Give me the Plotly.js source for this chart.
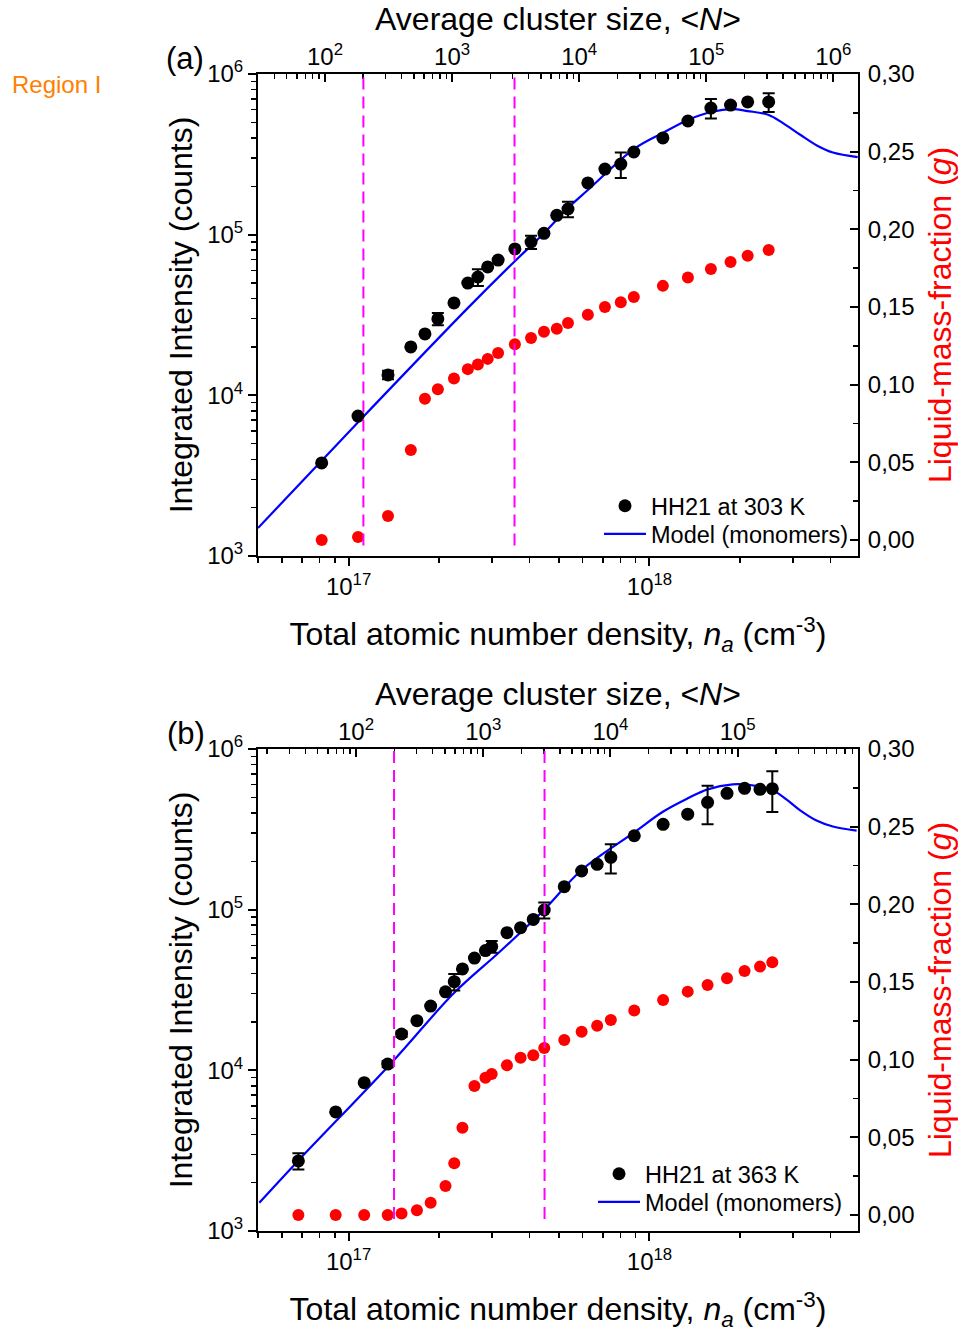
<!DOCTYPE html>
<html>
<head>
<meta charset="utf-8">
<script src="https://cdn.plot.ly/plotly-3.0.1.min.js"></script>
<style>
  html, body { margin: 0; padding: 0; background: #fff; }
  #chart { width: 958px; height: 1333px; }
</style>
</head>
<body>
<div id="chart"></div>
<script>
// ---------- Panel (a): HH21 at 303 K ----------
const nTop = [8.14e16, 1.075e17, 1.352e17, 1.61e17, 1.794e17, 1.98e17, 2.24e17, 2.49e17, 2.69e17, 2.90e17, 3.14e17, 3.57e17, 4.04e17, 4.46e17, 4.92e17, 5.36e17, 6.24e17, 7.11e17, 8.03e17, 8.87e17, 1.108e18, 1.342e18, 1.60e18, 1.86e18, 2.12e18, 2.49e18];
const intensityTop = [3795, 7430, 13400, 20000, 24100, 29900, 37600, 50000, 54500, 63000, 69500, 81500, 90000, 102000, 132000, 144500, 210000, 256000, 275000, 327000, 400000, 510000, 614000, 641000, 670000, 670000];
const intensityErrTop = [0, 0, 800, 0, 0, 2600, 0, 0, 6500, 0, 0, 0, 8500, 0, 0, 16000, 0, 0, 50000, 0, 0, 0, 85000, 0, 0, 90000];
const gTop = [0.000, 0.002, 0.0155, 0.058, 0.091, 0.097, 0.104, 0.110, 0.113, 0.1166, 0.1204, 0.126, 0.130, 0.134, 0.136, 0.1397, 0.145, 0.150, 0.153, 0.1565, 0.1636, 0.169, 0.1745, 0.179, 0.183, 0.1867];
const modelNTop = [5.0e16, 1.117e17, 2.47e17, 3.52e17, 4.46e17, 5.36e17, 6.24e17, 8.87e17, 1.108e18, 1.342e18, 1.60e18, 1.89e18, 2.12e18, 2.49e18, 2.77e18, 3.16e18, 3.60e18, 4.07e18, 4.92e18];
const modelITop = [1494, 7330, 34400, 66700, 102000, 146600, 189700, 341000, 430000, 518000, 580000, 605000, 588000, 556000, 496000, 420000, 359000, 324500, 304000];
const regionTop = [1.12e17, 3.56e17];

// ---------- Panel (b): HH21 at 363 K ----------
const nBot = [6.81e16, 9.06e16, 1.127e17, 1.349e17, 1.50e17, 1.687e17, 1.874e17, 2.10e17, 2.245e17, 2.39e17, 2.62e17, 2.85e17, 2.99e17, 3.36e17, 3.73e17, 4.11e17, 4.47e17, 5.21e17, 5.95e17, 6.70e17, 7.44e17, 8.90e17, 1.11e18, 1.34e18, 1.56e18, 1.81e18, 2.07e18, 2.33e18, 2.56e18];
const intensityBot = [2730, 5510, 8380, 10940, 16830, 20370, 25120, 30820, 35640, 42760, 50000, 55600, 58900, 71900, 77300, 87000, 99500, 139000, 174000, 191500, 211800, 288500, 339700, 392700, 465600, 529700, 569000, 561000, 566000];
const intensityErrBot = [320, 0, 0, 500, 700, 0, 0, 0, 4200, 0, 0, 0, 5000, 0, 0, 0, 11500, 0, 0, 0, 44000, 0, 0, 0, 125000, 0, 0, 0, 160000];
const gBot = [0.0, 0.0, 0.0, 0.0, 0.001, 0.003, 0.0079, 0.0187, 0.0333, 0.0562, 0.0831, 0.0884, 0.0908, 0.0964, 0.1013, 0.1028, 0.1075, 0.1127, 0.118, 0.1219, 0.1256, 0.1316, 0.1384, 0.1438, 0.1481, 0.1524, 0.1571, 0.1599, 0.1627];
const modelNBot = [5.05e16, 6.79e16, 1.40e17, 2.24e17, 3.18e17, 4.46e17, 5.95e17, 8.87e17, 1.108e18, 1.34e18, 1.56e18, 1.89e18, 2.16e18, 2.56e18, 2.85e18, 3.16e18, 3.59e18, 4.07e18, 4.88e18];
const modelIBot = [1500, 2730, 11320, 30270, 54700, 99500, 176500, 301500, 407000, 493000, 561000, 603000, 597000, 556000, 486000, 417000, 359000, 329500, 310500];
const regionBot = [1.416e17, 4.48e17];

// ---------- Tick labels ----------
const densityTickVals = [1e17, 1e18];
const densityTickText = ['10<sup>17</sup>', '10<sup>18</sup>'];
const intensityTickVals = [1e3, 1e4, 1e5, 1e6];
const intensityTickText = ['10<sup>3</sup>', '10<sup>4</sup>', '10<sup>5</sup>', '10<sup>6</sup>'];
const clusterTickVals = [1e2, 1e3, 1e4, 1e5, 1e6];
const clusterTickText = ['10<sup>2</sup>', '10<sup>3</sup>', '10<sup>4</sup>', '10<sup>5</sup>', '10<sup>6</sup>'];
const gTickVals = [0, 0.05, 0.10, 0.15, 0.20, 0.25, 0.30];
const gTickText = ['0,00', '0,05', '0,10', '0,15', '0,20', '0,25', '0,30'];
const labelsPanel = ['(a)', '(b)'];
const legendNames = ['HH21 at 303 K', 'HH21 at 363 K', 'Model (monomers)'];

function minorLog(lo, hi) {
  const out = [];
  for (let e = lo; e <= hi; e++) for (let k = 2; k <= 9; k++) out.push(k * Math.pow(10, e));
  return out;
}

const FONT = 'Liberation Sans, Arial, sans-serif';
const BLUE = '#0000FF', RED = '#FF0000', MAG = '#FF00FF';

const traces = [
  // top panel
  { x: modelNTop, y: modelITop, xaxis: 'x', yaxis: 'y', mode: 'lines', line: { color: BLUE, width: 2.2, shape: 'spline', smoothing: 1 }, name: legendNames[2], legend: 'legend3' },
  { x: nTop, y: intensityTop, xaxis: 'x', yaxis: 'y', mode: 'markers', marker: { color: '#000', size: 13 }, name: legendNames[0], legend: 'legend',
    error_y: { type: 'data', array: intensityErrTop, visible: true, color: '#000', thickness: 2, width: 6 } },
  { x: nTop, y: gTop, xaxis: 'x', yaxis: 'y2', mode: 'markers', marker: { color: RED, size: 12 }, showlegend: false },
  { x: clusterTickVals, y: clusterTickVals.map(() => null), xaxis: 'x2', yaxis: 'y', mode: 'markers', showlegend: false, hoverinfo: 'skip' },
  // bottom panel
  { x: modelNBot, y: modelIBot, xaxis: 'x3', yaxis: 'y3', mode: 'lines', line: { color: BLUE, width: 2.2, shape: 'spline', smoothing: 1 }, name: legendNames[2], legend: 'legend4' },
  { x: nBot, y: intensityBot, xaxis: 'x3', yaxis: 'y3', mode: 'markers', marker: { color: '#000', size: 13 }, name: legendNames[1], legend: 'legend2',
    error_y: { type: 'data', array: intensityErrBot, visible: true, color: '#000', thickness: 2, width: 6 } },
  { x: nBot, y: gBot, xaxis: 'x3', yaxis: 'y4', mode: 'markers', marker: { color: RED, size: 12 }, showlegend: false },
  { x: clusterTickVals, y: clusterTickVals.map(() => null), xaxis: 'x4', yaxis: 'y3', mode: 'markers', showlegend: false, hoverinfo: 'skip' }
];

const L = 258, R = 100, T = 74, B = 102, H = 1333, W = 958;
const plotH = H - T - B, plotW = W - L - R;
const topDom = [(1231 - 556) / plotH, 1];
const botDom = [0, (1231 - 749) / plotH];
const tickFont = { family: FONT, size: 24, color: '#000' };
const titleFont = { family: FONT, size: 32, color: '#000' };
const px2x = px => (px - L) / plotW;
const py2y = py => (1231 - py) / plotH;

function densityAxis(anchor) {
  return {
    type: 'log', range: [Math.log10(5e16), 18.693], anchor: anchor,
    showline: true, linecolor: '#000', linewidth: 2, ticks: 'outside', ticklen: 8, tickwidth: 2, tickcolor: '#000',
    tickmode: 'array', tickvals: densityTickVals, ticktext: densityTickText, tickfont: tickFont,
    minor: { tickmode: 'array', tickvals: minorLog(16, 18), ticks: 'outside', ticklen: 5, tickwidth: 1.5, tickcolor: '#000', showgrid: false },
    showgrid: false, zeroline: false,
    title: { text: 'Total atomic number density, <i>n</i><sub><i>a</i></sub> (cm<sup>-3</sup>)', font: titleFont, standoff: 24 }
  };
}
function clusterAxis(overlay, anchor, range) {
  return {
    type: 'log', range: range, overlaying: overlay, anchor: anchor, side: 'top',
    showline: true, linecolor: '#000', linewidth: 2, ticks: 'inside', ticklen: 8, tickwidth: 2, tickcolor: '#000',
    tickmode: 'array', tickvals: clusterTickVals, ticktext: clusterTickText, tickfont: tickFont, ticklabelstandoff: -3,
    minor: { tickmode: 'array', tickvals: minorLog(1, 6), ticks: 'inside', ticklen: 5, tickwidth: 1.5, tickcolor: '#000', showgrid: false },
    showgrid: false, zeroline: false,
    title: { text: 'Average cluster size, &lt;<i>N</i>&gt;', font: titleFont, standoff: 0 }
  };
}
function intensityAxis(anchor, dom) {
  return {
    type: 'log', range: [3, 6], domain: dom, anchor: anchor,
    showline: true, linecolor: '#000', linewidth: 2, ticks: 'outside', ticklen: 8, tickwidth: 2, tickcolor: '#000',
    tickmode: 'array', tickvals: intensityTickVals, ticktext: intensityTickText, tickfont: tickFont,
    minor: { tickmode: 'array', tickvals: minorLog(3, 5), ticks: 'outside', ticklen: 5, tickwidth: 1.5, tickcolor: '#000', showgrid: false },
    showgrid: false, zeroline: false,
    title: { text: 'Integrated Intensity (counts)', font: titleFont, standoff: 5 }
  };
}
function gAxis(overlay, anchor) {
  return {
    range: [-0.0103, 0.30], overlaying: overlay, anchor: anchor, side: 'right',
    showline: true, linecolor: '#000', linewidth: 2, ticks: 'inside', ticklen: 8, tickwidth: 2, tickcolor: '#000',
    tickmode: 'array', tickvals: gTickVals, ticktext: gTickText, tickfont: tickFont, ticklabelstandoff: 3,
    minor: { tickmode: 'linear', tick0: 0.025, dtick: 0.05, ticks: 'inside', ticklen: 5, tickwidth: 1.5, tickcolor: '#000', showgrid: false },
    showgrid: false, zeroline: false,
    title: { text: 'Liquid-mass-fraction (<i>g</i>)', font: { family: FONT, size: 32, color: RED }, standoff: 16 }
  };
}

function regionShapes(vals, xref, yref, y0) {
  return vals.map(v => ({
    type: 'line', xref: xref, yref: yref, x0: v, x1: v, y0: y0, y1: 1,
    line: { color: MAG, width: 2, dash: '12px,7px' }
  }));
}

function legendAt(textStartPx, rowPx) {
  return {
    x: px2x(textStartPx - 52), xanchor: 'left', y: py2y(rowPx), yanchor: 'middle',
    bgcolor: 'rgba(0,0,0,0)', borderwidth: 0,
    font: { family: FONT, size: 23.5, color: '#000' }, itemwidth: 42, tracegroupgap: 0
  };
}

const layout = {
  width: W, height: H,
  margin: { l: L, r: R, t: T, b: B },
  paper_bgcolor: '#fff', plot_bgcolor: '#fff',
  font: { family: FONT, color: '#000' },
  xaxis: densityAxis('y'),
  xaxis2: clusterAxis('x', 'y', [1.473, 6.194]),
  yaxis: intensityAxis('x', topDom),
  yaxis2: gAxis('y', 'x'),
  xaxis3: densityAxis('y3'),
  xaxis4: clusterAxis('x3', 'y3', [1.2296, 5.946]),
  yaxis3: intensityAxis('x3', botDom),
  yaxis4: gAxis('y3', 'x3'),
  shapes: regionShapes(regionTop, 'x', 'y domain', 0.022).concat(regionShapes(regionBot, 'x3', 'y3 domain', 0.025)),
  legend: legendAt(651, 506),
  legend3: legendAt(651, 534),
  legend2: legendAt(645, 1174),
  legend4: legendAt(645, 1202),
  annotations: [
    { text: labelsPanel[0], xref: 'paper', yref: 'paper', x: px2x(185), y: py2y(58), xanchor: 'center', yanchor: 'middle', showarrow: false, font: { family: FONT, size: 31, color: '#000' } },
    { text: labelsPanel[1], xref: 'paper', yref: 'paper', x: px2x(186), y: py2y(733), xanchor: 'center', yanchor: 'middle', showarrow: false, font: { family: FONT, size: 31, color: '#000' } },
    { text: 'Region I', xref: 'paper', yref: 'paper', x: px2x(56), y: py2y(84), xanchor: 'center', yanchor: 'middle', showarrow: false, font: { family: FONT, size: 24, color: '#FF8000' } }
  ],
  showlegend: true
};

Plotly.newPlot('chart', traces, layout, { displayModeBar: false, staticPlot: true });
</script>
</body>
</html>
